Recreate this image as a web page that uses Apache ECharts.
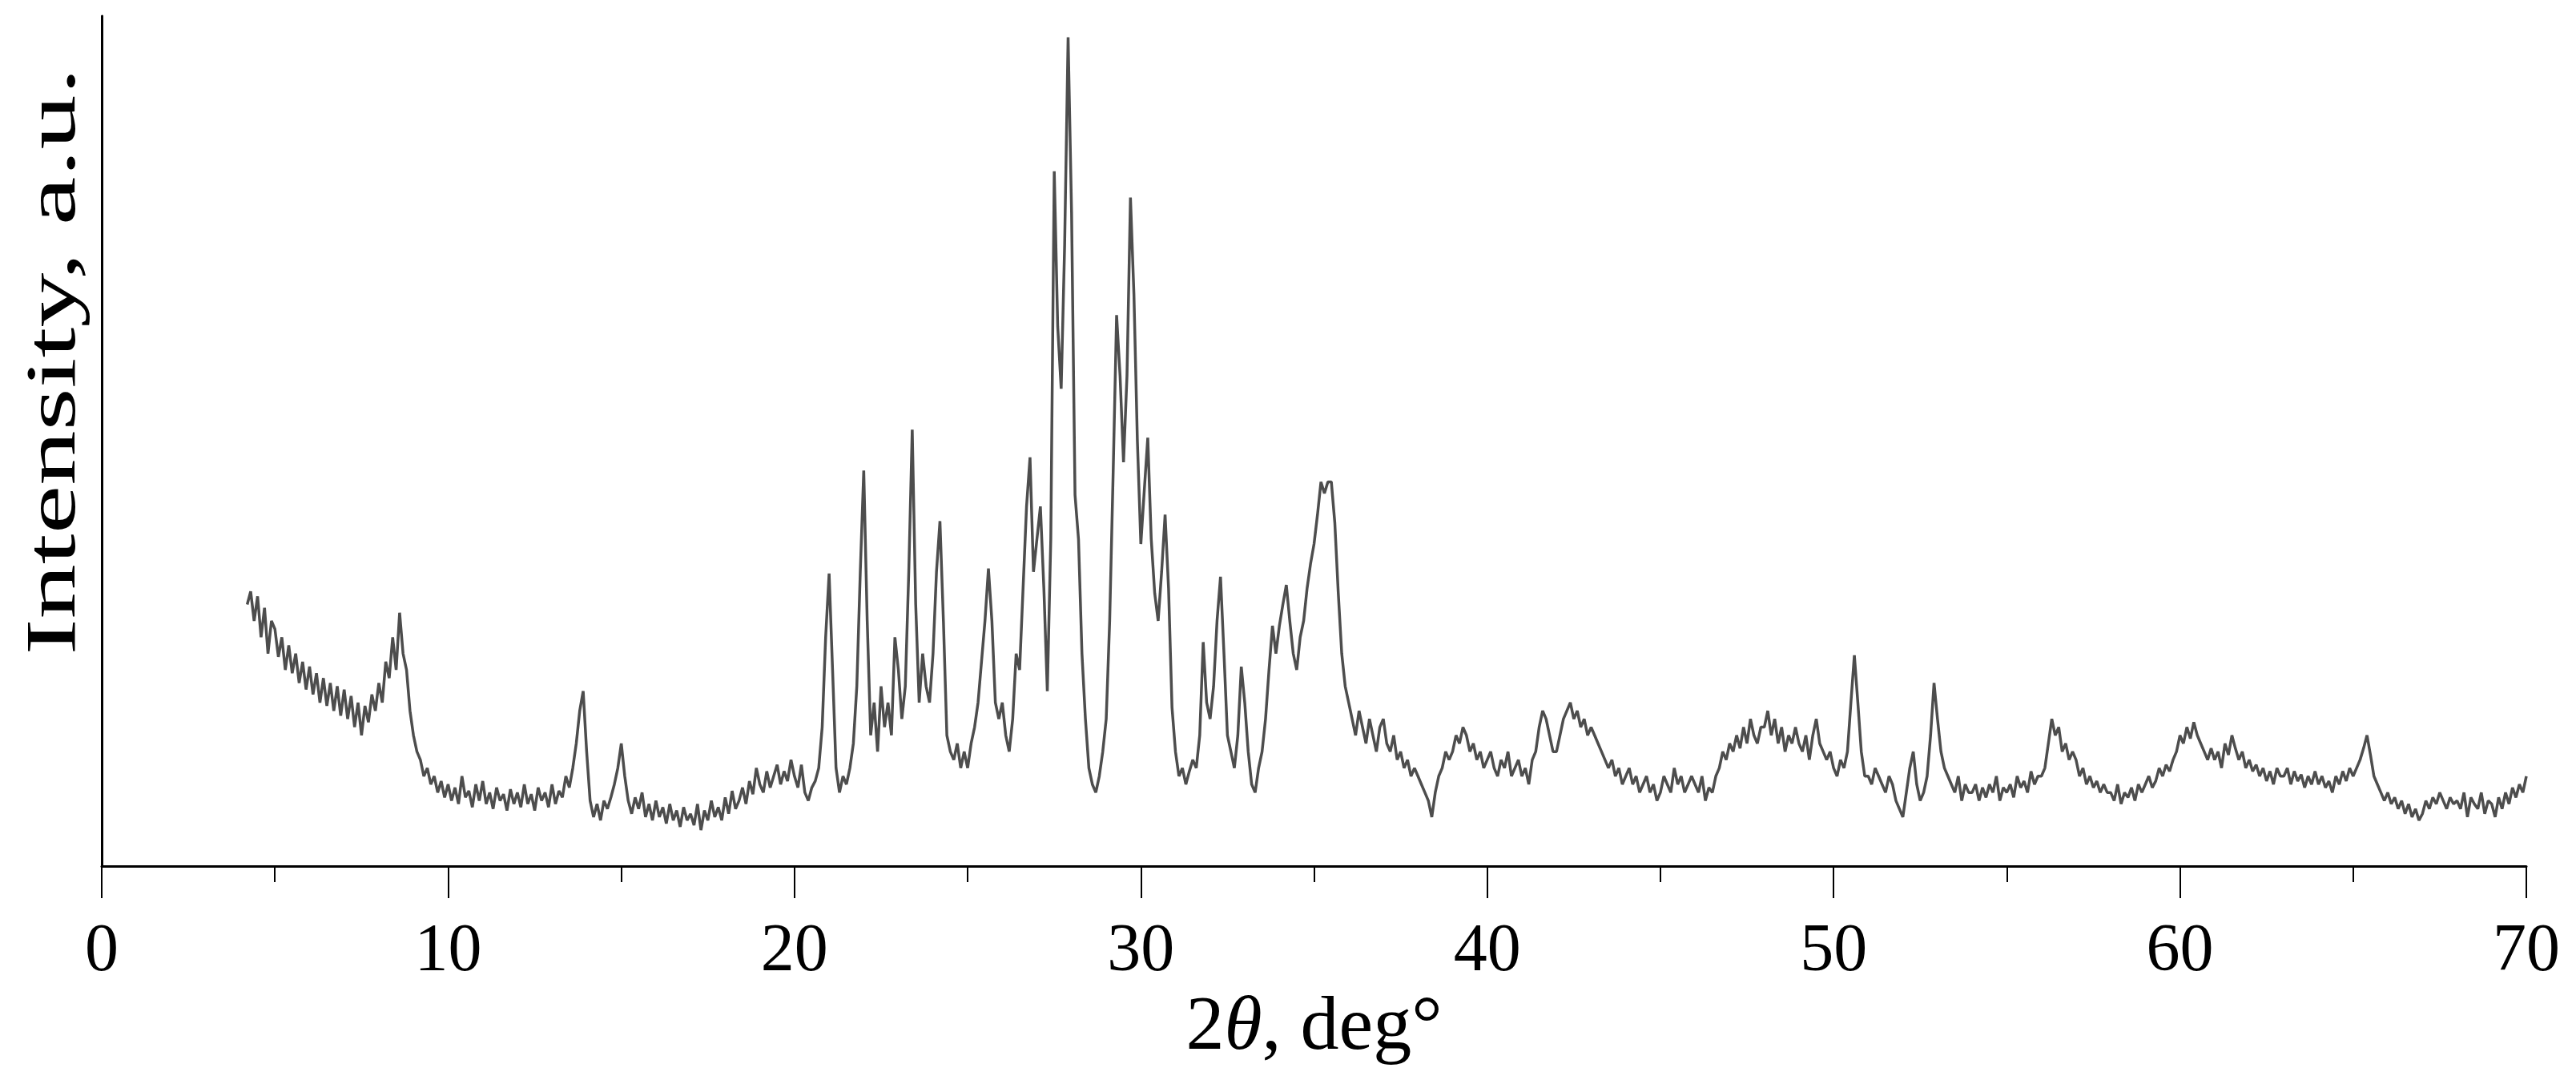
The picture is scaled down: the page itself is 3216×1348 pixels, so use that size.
<!DOCTYPE html>
<html><head><meta charset="utf-8">
<script src="https://cdn.jsdelivr.net/npm/echarts@6/dist/echarts.min.js"></script>
<style>html,body{margin:0;padding:0;background:#fff}#c{width:3216px;height:1348px}</style>
</head><body><div id="c"></div>
<script>
const startAngle = 4.2;
const stepAngle = 0.1;
const intensity = [
160,168,150,165,140,158,130,150,
145,128,140,120,135,118,130,112,125,108,
122,105,118,100,115,98,112,95,110,92,
108,90,104,85,100,80,98,88,105,95,
112,100,125,115,140,120,155,130,120,95,
80,70,65,55,60,50,55,45,52,42,
50,40,48,38,55,42,46,36,50,40,
52,38,45,35,48,40,44,34,47,38,
45,36,50,38,44,34,48,40,45,36,
50,38,46,42,55,48,60,75,95,107,
70,40,30,38,28,40,35,42,50,60,
75,55,40,32,42,35,45,30,38,28,
40,30,36,26,38,28,34,24,36,28,
32,25,38,22,34,28,40,30,36,28,
42,32,46,35,40,48,38,52,44,60,
50,45,58,48,55,62,50,58,52,65,
55,48,62,45,40,48,52,60,85,140,
179,120,60,45,55,50,60,75,110,180,
242,150,80,100,70,110,85,100,80,140,
120,90,110,180,267,160,100,130,110,100,
130,180,211,150,80,70,65,75,60,70,
60,75,85,100,125,150,182,150,100,90,
100,80,70,90,130,120,170,220,250,180,
200,220,170,107,200,425,330,292,380,507,
400,227,200,130,90,60,50,45,55,70,
90,150,240,337,300,247,300,409,350,260,
197,230,262,200,167,150,180,215,170,97,
70,55,60,50,58,65,60,80,137,100,
90,110,150,177,130,80,70,60,80,122,
100,70,50,45,60,70,90,120,147,130,
147,160,172,150,130,120,140,150,170,185,
197,215,235,228,235,235,210,167,130,110,
100,90,80,95,85,75,90,80,70,85,
90,75,70,80,65,70,60,65,55,60,
55,50,45,40,30,45,55,60,70,65,
70,80,75,85,80,70,75,65,70,60,
65,70,60,55,65,60,70,55,60,65,
55,60,50,65,70,85,95,90,80,70,
70,80,90,95,100,90,95,85,90,80,
85,80,75,70,65,60,65,55,60,50,
55,60,50,55,45,50,55,45,50,40,
45,55,50,45,60,50,55,45,50,55,
50,45,55,40,48,45,55,60,70,65,
75,70,80,72,85,75,90,80,75,85,
85,95,80,90,75,85,70,80,75,85,
75,70,80,65,80,90,75,70,65,70,
60,55,65,60,70,100,129,100,70,55,
55,50,60,55,50,45,55,50,40,35,
30,45,60,70,50,40,45,55,80,112,
90,70,60,55,50,45,55,40,50,45,
45,50,40,48,42,50,45,55,40,48,
45,50,42,55,48,52,45,58,50,55,
55,60,75,90,80,85,70,75,65,70,
65,55,60,50,55,48,52,45,50,45,
45,40,50,38,45,42,48,40,50,45,
50,55,48,52,60,55,62,58,65,70,
80,75,85,78,88,80,75,70,65,72,
65,70,60,75,68,80,72,65,70,60,
65,58,62,55,60,52,58,50,60,55,
55,60,50,58,52,56,48,55,50,58,
50,55,48,52,45,55,50,58,52,60,
55,60,65,72,80,68,55,50,45,40,
45,38,42,35,40,32,38,30,35,28,
32,40,35,42,38,45,40,35,42,38,
40,35,45,30,42,38,35,45,32,40,
38,30,42,35,45,38,48,42,50,45,
55
];
const xTicks = [0,10,20,30,40,50,60,70];

const points = intensity.map((v,i)=>[+(startAngle+i*stepAngle).toFixed(2), v]);
const font = '"Liberation Serif", serif';
const chart = echarts.init(document.getElementById('c'));
chart.setOption({
  animation:false,
  grid:{left:127,right:62,top:20,bottom:267},
  xAxis:{type:'value',min:0,max:70,interval:10,
    axisLine:{lineStyle:{color:'#000',width:3}},
    axisTick:{show:true,inside:false,length:40,lineStyle:{color:'#000',width:2}},
    minorTick:{show:true,splitNumber:2,length:20,lineStyle:{color:'#000',width:2}},
    splitLine:{show:false},
    axisLabel:{margin:66,fontSize:84,color:'#000',fontFamily:font,
      formatter:v=>xTicks.includes(v)?String(v):''},
    name:'2{i|θ}, deg°',nameLocation:'middle',nameGap:140,
    nameTextStyle:{fontSize:96,color:'#000',fontFamily:font,
      rich:{i:{fontSize:96,fontStyle:'italic',fontFamily:font,color:'#000'}}}
  },
  yAxis:{type:'value',min:0,max:520,
    axisLine:{show:true,lineStyle:{color:'#000',width:3}},
    axisTick:{show:false},axisLabel:{show:false},splitLine:{show:false}},
  graphic:[{type:'text',x:70,y:451,rotation:Math.PI/2,scaleX:1.55,
    style:{text:'Intensity, a.u.',font:'88px "Liberation Serif", serif',fill:'#000',
      textAlign:'center',textVerticalAlign:'middle'}}],
  series:[{type:'line',data:points,showSymbol:false,
    lineStyle:{color:'#4d4d4d',width:3.5}}]
});
</script></body></html>
